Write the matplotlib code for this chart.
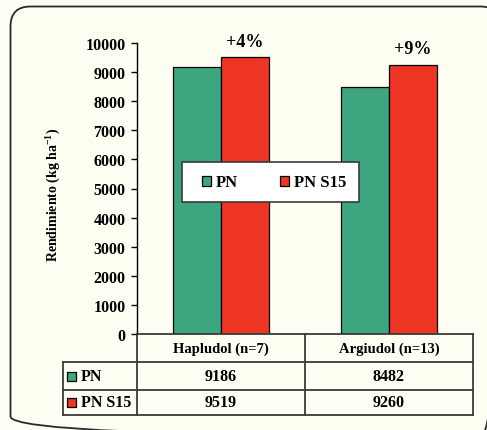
import matplotlib
matplotlib.use("Agg")
import matplotlib.pyplot as plt
from matplotlib.patches import FancyBboxPatch, Rectangle
import numpy as np

# Yield by soil type and treatment
soils = ["Hapludol (n=7)", "Argiudol (n=13)"]
series = ["PN", "PN S15"]
pn = [9186, 8482]
pn_s15 = [9519, 9260]
gain_labels = ["+4%", "+9%"]
yticks = list(range(0, 10001, 1000))

GREEN = "#3ea67e"
RED = "#ee3524"
BG = "#fffef2"
EDGE = "#3a3a3a"

plt.rcParams["font.family"] = ["Liberation Serif", "DejaVu Serif"]
plt.rcParams["font.weight"] = "bold"
plt.rcParams["mathtext.fontset"] = "custom"
plt.rcParams["mathtext.rm"] = "Liberation Serif:bold"
plt.rcParams["mathtext.bf"] = "Liberation Serif:bold"
plt.rcParams["mathtext.it"] = "Liberation Serif:bold"

W, H = 487, 431
fig = plt.figure(figsize=(W / 100, H / 100), dpi=100, facecolor=BG)


def frac(x0, y0, x1, y1):
    return [x0 / W, 1 - y1 / H, (x1 - x0) / W, (y1 - y0) / H]


# full-figure pixel canvas for the frame and data table
bg = fig.add_axes([0, 0, 1, 1], zorder=0)
bg.set_xlim(0, W)
bg.set_ylim(H, 0)
bg.axis("off")
bg.add_patch(FancyBboxPatch((10.5, 7.5), 490, 430,
                            boxstyle="round,pad=0,rounding_size=20",
                            fc="none", ec="#2a2a2a", lw=1.3))

ax = fig.add_axes(frac(136.5, 44, 473, 335), zorder=1)
ax.set_facecolor("none")
x = np.arange(len(soils))
bw = 0.285
ax.bar(x - bw / 2, pn, bw, color=GREEN, edgecolor="black", lw=0.9,
       label=series[0])
bars2 = ax.bar(x + bw / 2, pn_s15, bw, color=RED, edgecolor="black", lw=0.9,
               label=series[1])
ax.set_xlim(-0.5, 1.5)
ax.set_ylim(0, 10000)
ax.set_yticks(yticks)
ax.set_yticklabels([str(v) for v in yticks], fontsize=11.5, fontweight="bold")
ax.set_xticks([])
for s in ("top", "right"):
    ax.spines[s].set_visible(False)
ax.spines["left"].set_color("black")
ax.spines["left"].set_linewidth(1.0)
ax.spines["bottom"].set_color(EDGE)
ax.spines["bottom"].set_linewidth(1.3)
ax.tick_params(axis="y", direction="out", length=4, width=1.0, pad=4)

ax.set_ylabel(r"Rendimiento (kg ha$^{\mathbf{-1}}$)", fontsize=10,
              fontweight="bold")
ax.yaxis.set_label_coords(-0.218, 0.48)

for rect, txt in zip(bars2, gain_labels):
    ax.annotate(txt, (rect.get_x() + rect.get_width() / 2, rect.get_height()),
                xytext=(0, 8), textcoords="offset points", ha="center",
                va="baseline", fontsize=13, fontweight="bold")

# white legend box above the bars
ax.add_patch(Rectangle((182, 163), 177, 40, fc="white", ec=EDGE, lw=1.2,
                       transform=bg.transData, clip_on=False, zorder=4))
leg = ax.legend(loc="center", bbox_to_anchor=(274 / W, 1 - 183.5 / H),
                bbox_transform=fig.transFigure, ncol=2, frameon=False,
                handlelength=0.55, handleheight=0.55,
                handletextpad=0.3, columnspacing=2.5, borderpad=0.3,
                prop={"weight": "bold", "size": 12})
leg.set_zorder(5)
for h in leg.legend_handles:
    h.set_edgecolor("black")
    h.set_linewidth(0.9)

# data table under the axis, columns aligned with the categories
fig.canvas.draw()


def px(xd):
    return ax.transData.transform((xd, 0))[0]


col_edges = [px(-0.5), px(0.5), px(1.5)]
label_left = 63
row_y = [335, 363, 391, 416]
lkw = dict(color=EDGE, lw=1.3, solid_capstyle="projecting")

# horizontal rules
bg.plot([label_left, col_edges[-1]], [row_y[1]] * 2, **lkw)
bg.plot([label_left, col_edges[-1]], [row_y[2]] * 2, **lkw)
bg.plot([label_left, col_edges[-1]], [row_y[3]] * 2, **lkw)
# vertical rules
for xe in col_edges:
    bg.plot([xe, xe], [row_y[0], row_y[3]], **lkw)
bg.plot([label_left, label_left], [row_y[1], row_y[3]], **lkw)

hkw = dict(ha="center", va="center", fontsize=10.5, fontweight="bold")
vkw = dict(ha="center", va="center", fontsize=11.5, fontweight="bold")
for i, name in enumerate(soils):
    cx = (col_edges[i] + col_edges[i + 1]) / 2
    bg.text(cx, (row_y[0] + row_y[1]) / 2, name, **hkw)
    bg.text(cx, (row_y[1] + row_y[2]) / 2, str(pn[i]), **vkw)
    bg.text(cx, (row_y[2] + row_y[3]) / 2, str(pn_s15[i]), **vkw)

for r, (name, col) in enumerate(zip(series, [GREEN, RED])):
    cy = (row_y[r + 1] + row_y[r + 2]) / 2
    bg.add_patch(Rectangle((67, cy - 4.5), 9, 9, fc=col, ec="black", lw=0.9))
    bg.text(81, cy, name, ha="left", va="center", fontsize=11.5,
            fontweight="bold")

fig.savefig("out.png", dpi=100, facecolor=BG)
